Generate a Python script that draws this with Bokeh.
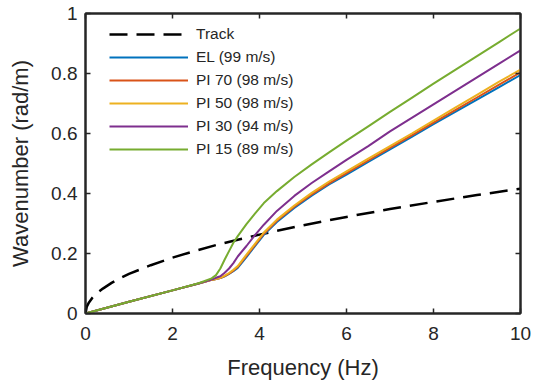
from bokeh.plotting import figure
from bokeh.models import (LinearAxis, FixedTicker, NumeralTickFormatter, CustomJSTickFormatter,
                          Legend, LegendItem, Range1d)
from bokeh.embed import file_html
from bokeh.resources import INLINE

# ---- data ----
track_f = [0, 0.03, 0.08, 0.15, 0.25, 0.4, 0.6, 0.8, 1.0, 1.5, 2.0, 2.5, 3.0, 3.5, 4.0, 5.0, 6.0, 7.0, 8.0, 9.0, 10.0]
track_k = [0, 0.023, 0.037, 0.051, 0.066, 0.083, 0.102, 0.118, 0.132, 0.161, 0.186, 0.208, 0.228, 0.246, 0.263, 0.294, 0.322, 0.348, 0.372, 0.395, 0.416]

soil_f = [0, 1.0, 2.0, 2.6, 2.9, 3.0, 3.1, 3.2, 3.3, 3.4, 3.5, 3.7, 3.9, 4.1, 4.4, 4.8, 5.2, 5.6, 6.0, 6.5, 7.0, 7.5, 8.0, 8.5, 9.0, 9.5, 10.0]
el_k   = [0, 0.039, 0.077, 0.100, 0.112, 0.115, 0.118, 0.124, 0.132, 0.141, 0.152, 0.188, 0.225, 0.262, 0.305, 0.352, 0.393, 0.430, 0.463, 0.505, 0.547, 0.589, 0.631, 0.672, 0.713, 0.754, 0.795]
pi70_k = [0, 0.039, 0.077, 0.100, 0.112, 0.115, 0.118, 0.125, 0.133, 0.143, 0.155, 0.192, 0.229, 0.266, 0.309, 0.356, 0.397, 0.434, 0.468, 0.510, 0.552, 0.594, 0.636, 0.678, 0.720, 0.762, 0.804]
pi50_k = [0, 0.039, 0.077, 0.100, 0.112, 0.115, 0.119, 0.126, 0.135, 0.146, 0.158, 0.196, 0.233, 0.270, 0.313, 0.360, 0.402, 0.440, 0.474, 0.516, 0.558, 0.600, 0.643, 0.686, 0.729, 0.772, 0.813]
pi30_k = [0, 0.039, 0.077, 0.100, 0.113, 0.119, 0.124, 0.136, 0.150, 0.168, 0.190, 0.225, 0.262, 0.296, 0.342, 0.392, 0.435, 0.474, 0.512, 0.558, 0.607, 0.652, 0.697, 0.742, 0.787, 0.832, 0.877]
pi15_k = [0, 0.039, 0.077, 0.101, 0.117, 0.128, 0.150, 0.180, 0.208, 0.236, 0.258, 0.298, 0.334, 0.368, 0.408, 0.455, 0.497, 0.537, 0.576, 0.624, 0.672, 0.719, 0.766, 0.812, 0.858, 0.904, 0.950]

labels = ["Track", "EL (99 m/s)", "PI 70 (98 m/s)", "PI 50 (98 m/s)", "PI 30 (94 m/s)", "PI 15 (89 m/s)"]
colors = ["#000000", "#0072BD", "#D95319", "#EDB120", "#7E2F8E", "#77AC30"]
x_ticks = [0, 2, 4, 6, 8, 10]
y_ticks = [0, 0.2, 0.4, 0.6, 0.8, 1.0]

FONT = "Liberation Sans"
TXT = "#262626"

p = figure(width=535, height=389, output_backend="svg", toolbar_location=None,
           x_range=Range1d(0, 10), y_range=Range1d(0, 1),
           min_border_left=85, min_border_right=15, min_border_top=13, min_border_bottom=76,
           x_axis_label="Frequency (Hz)", y_axis_label="Wavenumber (rad/m)")
p.grid.visible = False
p.outline_line_color = TXT
p.outline_line_width = 2
p.background_fill_color = "white"
p.border_fill_color = "white"

def style_axis(ax, ticks):
    ax.ticker = FixedTicker(ticks=ticks)
    ax.major_tick_in = 5
    ax.major_tick_out = 0
    ax.minor_tick_line_color = None
    ax.axis_line_color = TXT
    ax.axis_line_width = 2
    ax.major_tick_line_color = TXT
    ax.major_tick_line_width = 1.5
    ax.major_label_text_font = FONT
    ax.major_label_text_color = TXT
    ax.major_label_text_font_size = "19px"
    ax.axis_label_text_font = FONT
    ax.axis_label_text_color = TXT
    ax.axis_label_text_font_size = "22px"
    ax.axis_label_text_font_style = "normal"

style_axis(p.xaxis[0], x_ticks)
style_axis(p.yaxis[0], y_ticks)
p.yaxis[0].formatter = NumeralTickFormatter(format="0.[0]")
p.xaxis[0].major_label_standoff = 13
p.xaxis[0].axis_label_standoff = 12
p.yaxis[0].major_label_standoff = 8
p.yaxis[0].axis_label_standoff = 15

blank = CustomJSTickFormatter(code="return ''")
top = LinearAxis()
style_axis(top, x_ticks)
top.formatter = blank
top.major_label_standoff = 0
p.add_layout(top, "above")
right = LinearAxis()
style_axis(right, y_ticks)
right.formatter = CustomJSTickFormatter(code="return ''")
right.major_label_standoff = 0
p.add_layout(right, "right")

renderers = []
r = p.line(track_f, track_k, line_color=colors[0], line_width=2.5, line_dash="18 9")
renderers.append(r)
for ks, c in zip([el_k, pi70_k, pi50_k, pi30_k, pi15_k], colors[1:]):
    renderers.append(p.line(soil_f, ks, line_color=c, line_width=2))

legend = Legend(items=[LegendItem(label=l, renderers=[rr]) for l, rr in zip(labels, renderers)],
                location=(24, 154))
legend.margin = 0
legend.padding = 0
legend.spacing = 3
legend.glyph_width = 79
legend.glyph_height = 20
legend.label_height = 20
legend.label_standoff = 8
legend.label_text_font = FONT
legend.label_text_font_size = "15.5px"
legend.label_text_color = TXT
legend.border_line_color = None
legend.background_fill_alpha = 0
p.add_layout(legend, "center")

open("out.html", "w").write(file_html(p, INLINE))
